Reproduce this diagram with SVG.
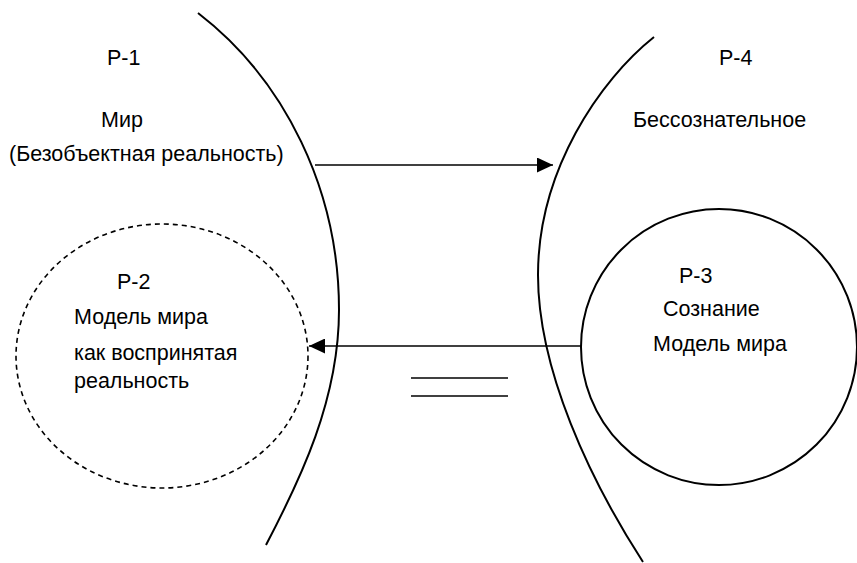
<svg xmlns="http://www.w3.org/2000/svg" width="857" height="563" viewBox="0 0 857 563">
  <style>
    .ln { fill: none; stroke: #000; stroke-width: 2; }
    .thin { fill: none; stroke: #000; stroke-width: 1.6; }
    .dash { fill: none; stroke: #000; stroke-width: 1.6; stroke-dasharray: 5 4; }
    .t { font-family: "Liberation Sans", Arial, sans-serif; font-size: 21.5px; fill: #000; }
  </style>
  <defs>
    <marker id="ah" markerUnits="userSpaceOnUse" markerWidth="17" markerHeight="15" refX="16" refY="7.5" orient="auto">
      <path d="M0,0 L16,7.5 L0,15 Z" fill="#000"/>
    </marker>
  </defs>
  <rect width="857" height="563" fill="#fff"/>

  <g id="P1">
    <path class="ln" d="M198,13 C285,80 339,190 339,310 C339,400 300,480 266,545"/>
    <text class="t" x="107" y="65">Р-1</text>
    <text class="t" x="101" y="127">Мир</text>
    <text class="t" x="9" y="161">(Безобъектная реальность)</text>
  </g>

  <g id="P4">
    <path class="ln" d="M654,37 C600,80 538,170 538,275 C538,370 590,480 643,562"/>
    <text class="t" x="719" y="65">Р-4</text>
    <text class="t" x="633" y="127">Бессознательное</text>
  </g>

  <g id="P2">
    <ellipse class="dash" cx="162" cy="356" rx="146" ry="132"/>
    <text class="t" x="117" y="289">Р-2</text>
    <text class="t" x="74" y="324">Модель мира</text>
    <text class="t" x="74" y="360">как воспринятая</text>
    <text class="t" x="74" y="388">реальность</text>
  </g>

  <g id="P3">
    <circle class="ln" cx="719" cy="347" r="138"/>
    <text class="t" x="679" y="283">Р-3</text>
    <text class="t" x="663" y="316">Сознание</text>
    <text class="t" x="653" y="351">Модель мира</text>
  </g>

  <g id="equals">
    <line class="thin" x1="411" y1="378" x2="508" y2="378"/>
    <line class="thin" x1="411" y1="396" x2="508" y2="396"/>
  </g>

  <g id="connectors">
    <line class="thin" x1="315" y1="165" x2="553" y2="165" marker-end="url(#ah)"/>
    <line class="thin" x1="581" y1="346" x2="309" y2="346" marker-end="url(#ah)"/>
  </g>
</svg>
